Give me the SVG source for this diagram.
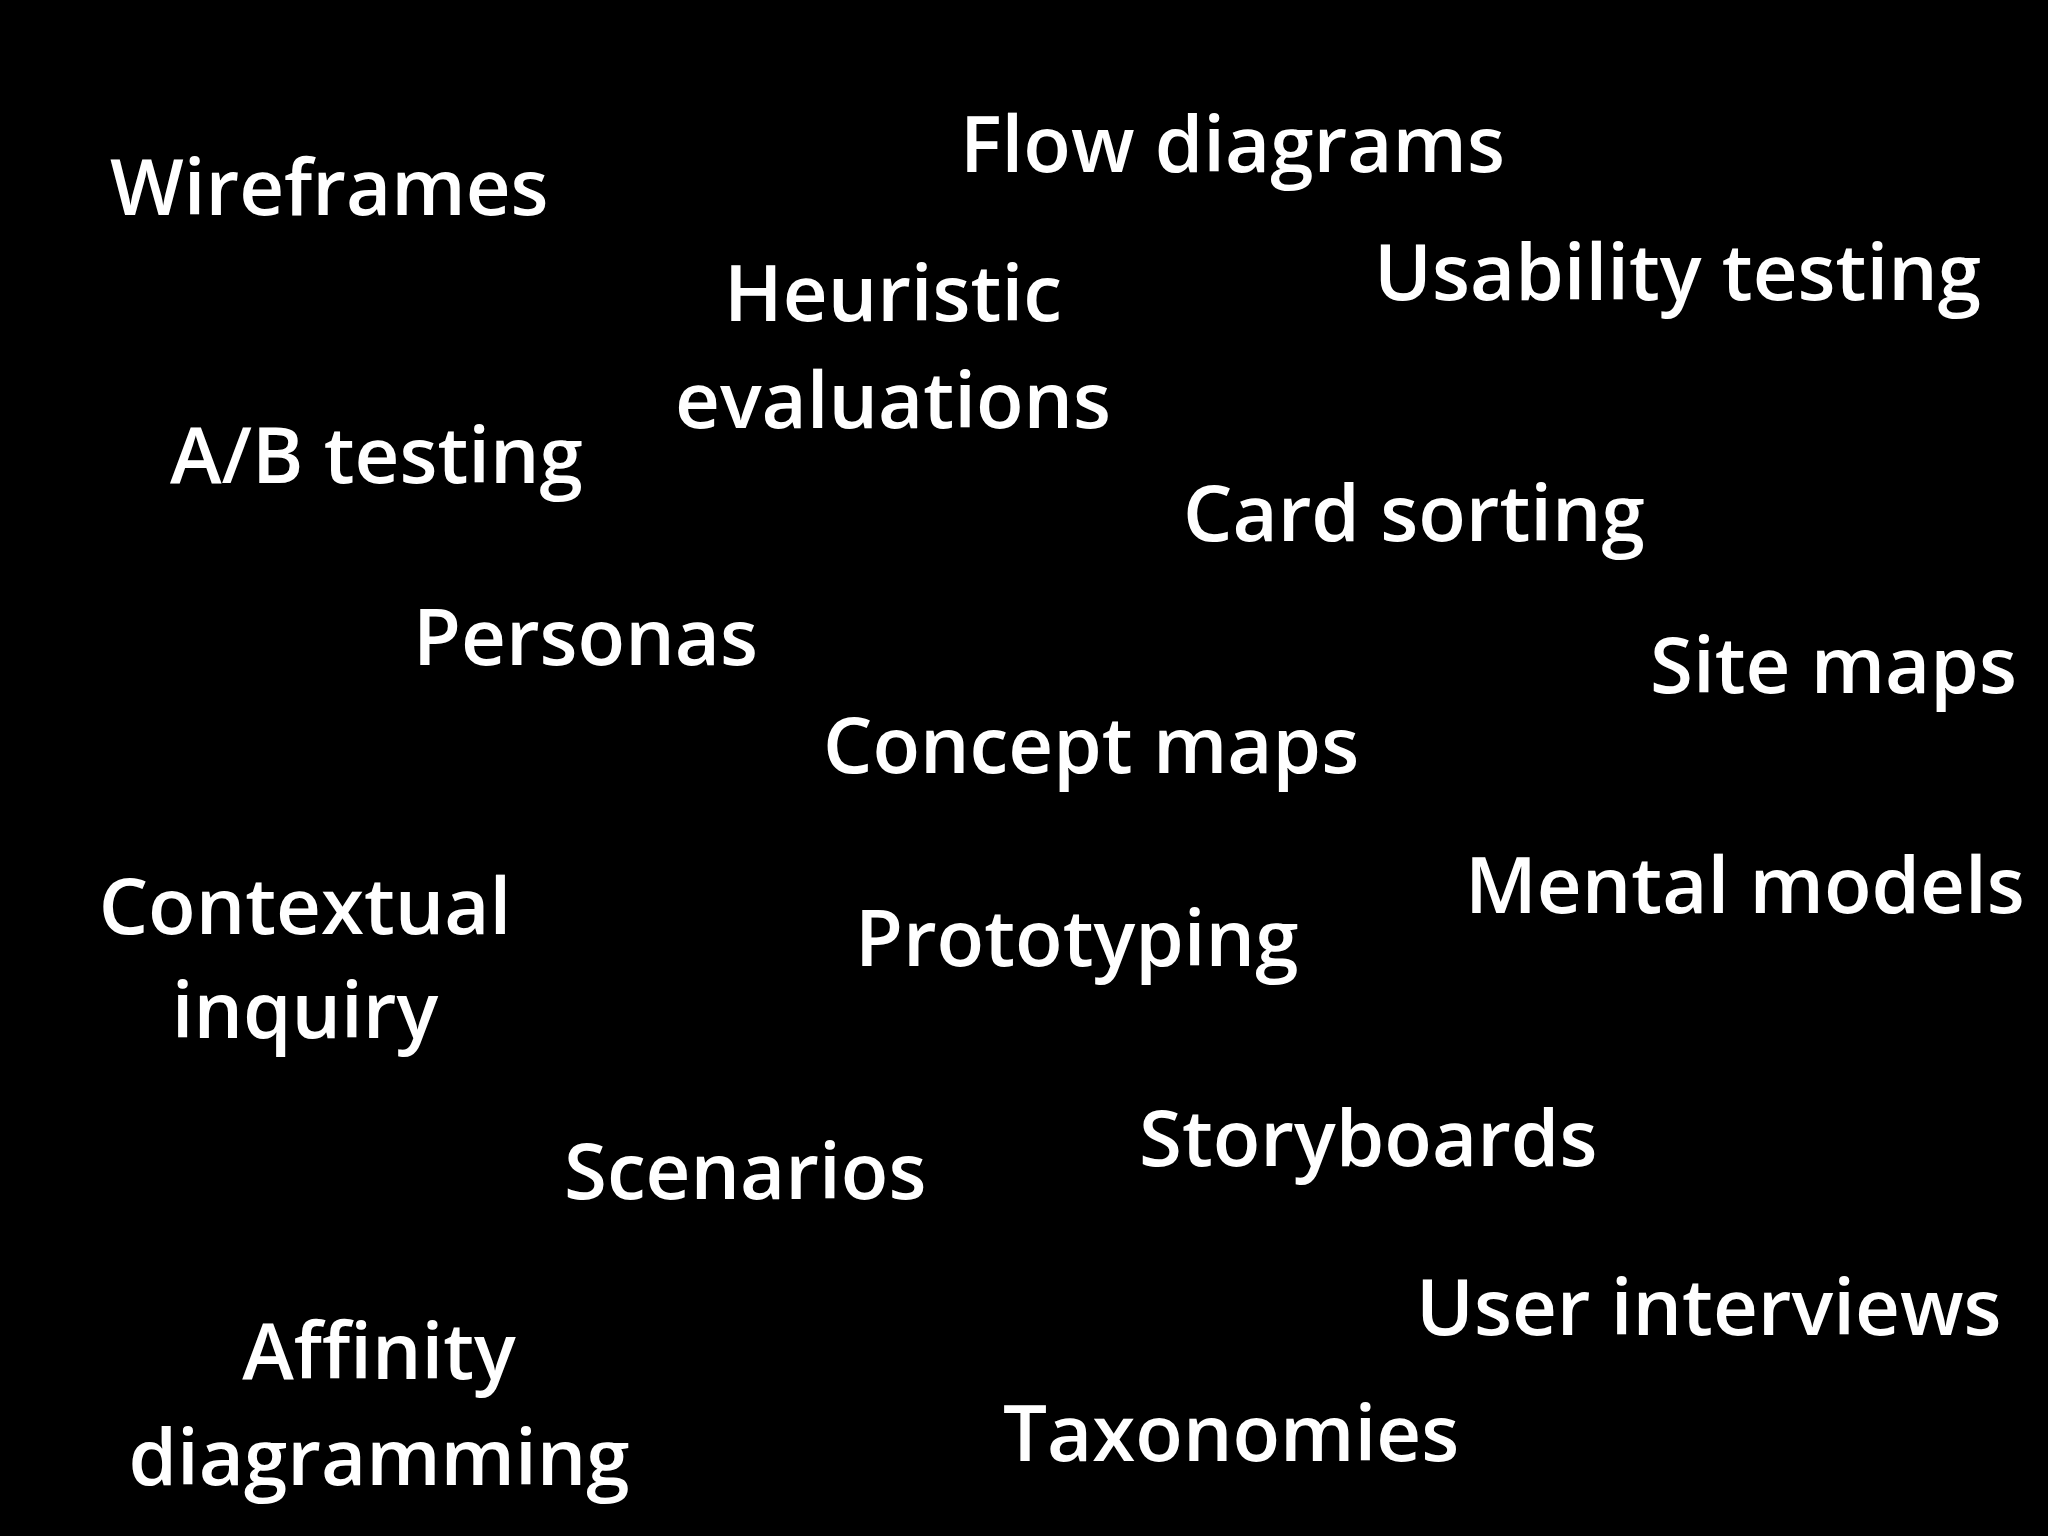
<svg xmlns="http://www.w3.org/2000/svg" width="2048" height="1536" viewBox="0 0 2048 1536">
<style>
text{font-family:"Open Sans","Liberation Sans",sans-serif;font-weight:600;font-size:78px;fill:#fff}
.m{text-anchor:middle}
</style>
<rect width="2048" height="1536" fill="#000"/>
<g id="wireframes"><text x="110" y="215">Wireframes</text></g>
<g id="flow"><text x="960" y="172">Flow diagrams</text></g>
<g id="usability"><text x="1374" y="300">Usability testing</text></g>
<g id="heuristic"><text class="m" x="893" y="321">Heuristic</text><text class="m" x="893" y="428">evaluations</text></g>
<g id="ab"><text x="170" y="483">A/B testing</text></g>
<g id="card"><text x="1183" y="541">Card sorting</text></g>
<g id="personas"><text x="413" y="665">Personas</text></g>
<g id="site"><text x="1650" y="693">Site maps</text></g>
<g id="concept"><text x="823" y="773">Concept maps</text></g>
<g id="contextual"><text class="m" x="305" y="934">Contextual</text><text class="m" x="305" y="1038">inquiry</text></g>
<g id="prototyping"><text x="855" y="966">Prototyping</text></g>
<g id="mental"><text x="1465" y="913">Mental models</text></g>
<g id="storyboards"><text x="1139" y="1166">Storyboards</text></g>
<g id="scenarios"><text x="564" y="1199">Scenarios</text></g>
<g id="interviews"><text x="1416" y="1335">User interviews</text></g>
<g id="affinity"><text class="m" x="379" y="1379">Affinity</text><text class="m" x="379" y="1485">diagramming</text></g>
<g id="taxonomies"><text x="1003" y="1461">Taxonomies</text></g>
<g id="connectors"/>
</svg>
